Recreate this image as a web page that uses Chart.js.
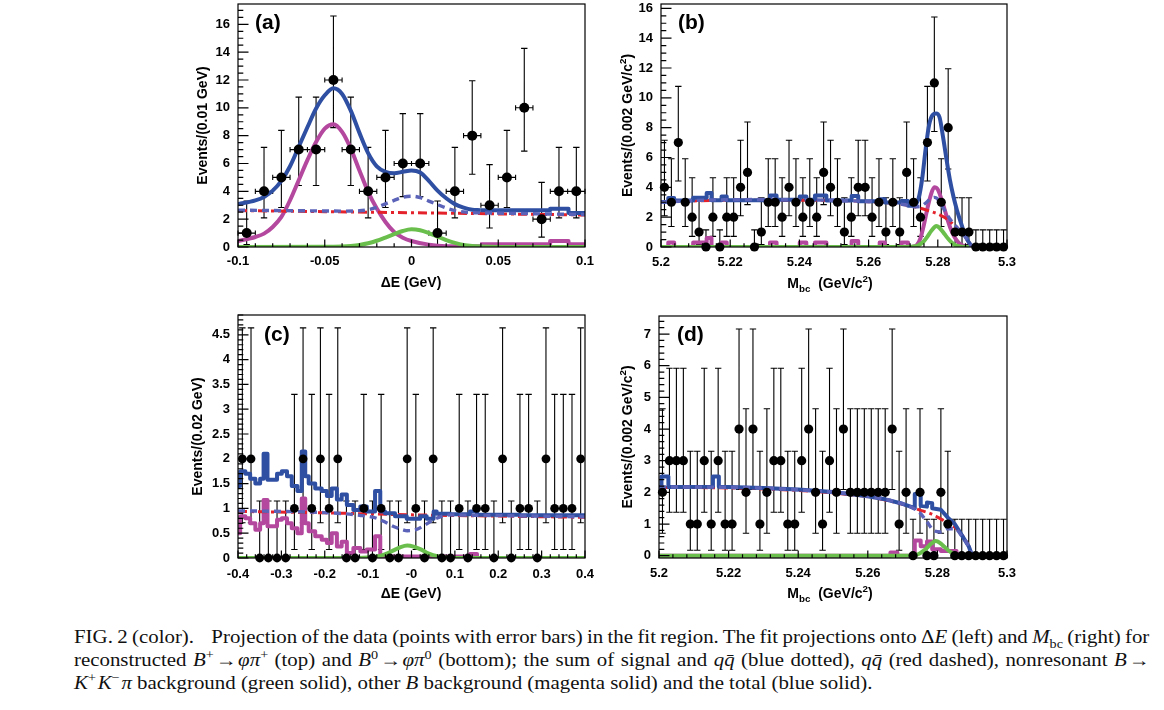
<!DOCTYPE html>
<html lang="en">
<head>
<meta charset="UTF-8">
<title>FIG. 2 - fit projections</title>
<script src="https://cdn.jsdelivr.net/npm/chart.js@4"></script>
<style>
  html, body { margin: 0; padding: 0; background: #fff; }
  body { position: relative; width: 1164px; height: 710px; overflow: hidden; }
  canvas { position: absolute; }
  .caption { position: absolute; left: 74px; top: 626px; width: 927px;
             transform: scaleX(1.16); transform-origin: 0 0;
             font-family: "Liberation Serif", "Times New Roman", serif; font-size: 18px; line-height: 23px; color: #111; }
  .caption div { white-space: nowrap; }
  .caption .j { text-align: justify; text-align-last: justify; word-spacing: -3px; }
  .caption sup, .caption sub { font-size: 68%; line-height: 0; }
</style>
</head>
<body>
<div class="caption">
  <div class="j">FIG. 2 (color).&nbsp;&nbsp;&nbsp; Projection of the data (points with error bars) in the fit region. The fit projections onto Δ<i>E</i> (left) and <i>M</i><sub>bc</sub> (right) for</div>
  <div class="j">reconstructed <i>B</i><sup>+</sup>&#8202;→&#8202;<i>φπ</i><sup>+</sup> (top) and <i>B</i><sup>0</sup>&#8202;→&#8202;<i>φπ</i><sup>0</sup> (bottom); the sum of signal and <i>qq̄</i> (blue dotted), <i>qq̄</i> (red dashed), nonresonant <i>B</i>&#8202;→</div>
  <div><i>K</i><sup>+</sup>&#8202;<i>K</i><sup>−</sup>&#8202;<i>π</i> background (green solid), other <i>B</i> background (magenta solid) and the total (blue solid).</div>
</div>
<script>
// ---------- data points (bin centres and counts) ----------
const A_X = [-0.095,-0.085,-0.075,-0.065,-0.055,-0.045,-0.035,-0.025,-0.015,-0.005,
             0.005,0.015,0.025,0.035,0.045,0.055,0.065,0.075,0.085,0.095];
const A_N = [1,4,5,7,7,12,7,4,5,6,6,1,4,8,3,5,10,2,4,4];

const MBC_X = [5.201,5.203,5.205,5.207,5.209,5.211,5.213,5.215,5.217,5.219,
               5.221,5.223,5.225,5.227,5.229,5.231,5.233,5.235,5.237,5.239,
               5.241,5.243,5.245,5.247,5.249,5.251,5.253,5.255,5.257,5.259,
               5.261,5.263,5.265,5.267,5.269,5.271,5.273,5.275,5.277,5.279,
               5.281,5.283,5.285,5.287,5.289,5.291,5.293,5.295,5.297,5.299];
const B_N = [4,3,7,3,2,1,0,2,0,2, 2,4,5,0,1,3,3,2,4,3, 2,3,2,5,4,3,1,2,4,4,
             2,3,1,3,1,5,3,2,7,11, 3,8,1,1,1,0,0,0,0,0];

const C_X = [-0.39,-0.37,-0.35,-0.33,-0.31,-0.29,-0.27,-0.25,-0.23,-0.21,
             -0.19,-0.17,-0.15,-0.13,-0.11,-0.09,-0.07,-0.05,-0.03,-0.01,
             0.01,0.03,0.05,0.07,0.09,0.11,0.13,0.15,0.17,0.19,
             0.21,0.23,0.25,0.27,0.29,0.31,0.33,0.35,0.37,0.39];
const C_N = [2,2,0,0,0,0,1,2,1,2, 1,2,0,0,1,0,1,0,0,2, 1,0,2,0,0,1,0,1,1,0,
             2,0,1,1,0,2,1,1,1,2];

const D_N = [2,3,3,3,1,1,3,1,3,1, 1,4,2,4,1,2,3,3,1,1, 3,4,2,1,3,2,4,2,2,2,
             2,2,2,4,1,2,0,2,0,0, 2,1,0,0,0,0,0,0,0,0];

// 68% Poisson intervals, indexed by count
const POIS_LO = [0,0.17,0.71,1.37,2.09,2.84,3.62,4.42,5.23,6.06,6.89,7.74,8.58];
const POIS_HI = [1.15,3.30,4.64,5.92,7.16,8.38,9.58,10.77,11.95,13.11,14.27,15.42,16.60];

// ---------- fit curves [x, y] ----------
// (a) dE, B+ -> phi pi+
const A_TOTAL = [[-0.1,3.07],[-0.09,3.35],[-0.085,3.6],[-0.08,4.05],[-0.075,4.75],[-0.07,5.8],
  [-0.065,7.2],[-0.06,8.6],[-0.055,9.95],[-0.05,10.9],[-0.045,11.4],[-0.04,11.0],[-0.035,9.8],
  [-0.03,8.2],[-0.025,6.75],[-0.02,5.8],[-0.015,5.4],[-0.01,5.3],[-0.005,5.4],[0,5.5],[0.005,5.35],
  [0.01,4.75],[0.015,4.05],[0.02,3.5],[0.025,3.08],[0.03,2.83],[0.035,2.68],[0.0396,2.64]];
const A_TOTAL_STEP = [[0.0396,2.64],[0.0799,2.74],[0.0905,2.45],[0.1,2.45]];
const A_SUM = [[-0.1,2.65],[-0.08,2.62],[-0.06,2.6],[-0.04,2.58],[-0.03,2.6],[-0.025,2.68],
  [-0.02,2.85],[-0.015,3.1],[-0.01,3.35],[-0.005,3.58],[0,3.65],[0.005,3.55],[0.01,3.3],
  [0.015,3.05],[0.02,2.8],[0.025,2.62],[0.03,2.52],[0.035,2.46],[0.04,2.45],[0.06,2.41],
  [0.08,2.37],[0.1,2.33]];
const A_QQ = [[-0.1,2.62],[-0.05,2.54],[0,2.46],[0.05,2.38],[0.1,2.3]];
const A_NONRES = [[-0.1,0],[-0.05,0.01],[-0.04,0.04],[-0.035,0.08],[-0.03,0.15],[-0.025,0.27],
  [-0.02,0.45],[-0.015,0.68],[-0.01,0.92],[-0.005,1.15],[0,1.27],[0.005,1.2],[0.01,1.0],
  [0.015,0.75],[0.02,0.5],[0.025,0.3],[0.03,0.15],[0.035,0.07],[0.04,0.03],[0.05,0],[0.1,0]];
const A_OTHERB = [[-0.1,0.43],[-0.09,0.72],[-0.085,0.96],[-0.08,1.44],[-0.075,2.16],[-0.07,3.36],
  [-0.065,4.8],[-0.06,6.24],[-0.055,7.55],[-0.05,8.51],[-0.045,8.82],[-0.04,8.27],[-0.035,7.07],
  [-0.03,5.5],[-0.025,3.96],[-0.02,2.76],[-0.015,1.8],[-0.01,1.08],[-0.005,0.67],[0,0.43],
  [0.01,0.17],[0.02,0.06],[0.03,0.05],[0.0396,0.05]];
const A_OTHERB_STEP = [[0.0396,0.19],[0.0799,0.43],[0.0905,0.19],[0.1,0.19]];

// (b) Mbc, B+ -> phi pi+
const B_TOTAL_STEP = [[5.2,3.02],[5.2021,3.28],[5.2038,3.12],[5.2093,3.3],[5.2132,3.62],[5.2146,3.13],
  [5.2175,3.38],[5.219,3.14],[5.2315,3.45],[5.2334,3.17],[5.2401,3.38],[5.242,3.17],[5.2445,3.45],
  [5.2478,3.12],[5.2551,3.42],[5.257,3.06],[5.2632,3.2],[5.2647,2.98],[5.2695,3.08],[5.2714,2.76],[5.2735,2.76]];
const B_TOTAL = [[5.2735,2.76],[5.2745,3.3],[5.2755,4.6],[5.2765,6.6],[5.2775,8.2],[5.2785,8.85],
  [5.2795,8.95],[5.2805,8.7],[5.2815,7.4],[5.2825,5.9],[5.2835,4.5],[5.2845,3.4],[5.2855,2.5],
  [5.2865,1.75],[5.2875,1.05],[5.2885,0.5],[5.2895,0.15],[5.2905,0],[5.3,0]];
const B_SUM = [[5.2,3.0],[5.21,3.12],[5.22,3.17],[5.23,3.18],[5.24,3.17],[5.25,3.13],[5.26,3.05],
  [5.265,2.98],[5.27,2.85],[5.2735,2.7],[5.275,2.72],[5.2765,2.95],[5.278,3.25],[5.279,3.33],
  [5.28,3.2],[5.281,2.85],[5.282,2.45],[5.283,2.05],[5.284,1.72],[5.285,1.45],[5.286,1.2],
  [5.287,0.95],[5.288,0.65],[5.289,0.3],[5.29,0],[5.3,0]];
const B_QQ = [[5.2,3.02],[5.22,3.14],[5.24,3.14],[5.26,3.04],[5.27,2.85],[5.275,2.6],[5.278,2.38],
  [5.28,2.22],[5.282,1.97],[5.284,1.62],[5.286,1.2],[5.288,0.7],[5.289,0.35],[5.29,0],[5.3,0]];
const B_NONRES = [[5.2,0],[5.271,0],[5.272,0.01],[5.273,0.03],[5.274,0.08],[5.275,0.2],[5.276,0.4],
  [5.277,0.7],[5.278,1.05],[5.279,1.33],[5.2795,1.4],[5.28,1.37],[5.281,1.15],[5.282,0.85],
  [5.283,0.55],[5.284,0.3],[5.285,0.14],[5.286,0.06],[5.287,0.02],[5.288,0],[5.3,0]];
const B_OTHERB_STEP = [[5.2,0],[5.2021,0.3],[5.2038,0],[5.2093,0.3],[5.2132,0.6],[5.2146,0],
  [5.2175,0.3],[5.219,0],[5.2315,0.3],[5.2334,0],[5.2401,0.3],[5.242,0],[5.2445,0.3],[5.2478,0],
  [5.2551,0.4],[5.257,0],[5.2632,0.3],[5.2647,0],[5.2695,0.3],[5.2714,0],[5.2725,0]];
const B_OTHERB = [[5.2725,0],[5.274,0.15],[5.275,0.6],[5.276,1.5],[5.277,2.6],[5.278,3.5],[5.279,4.0],
  [5.28,3.85],[5.281,3.25],[5.282,2.5],[5.283,1.7],[5.284,1.05],[5.285,0.6],[5.286,0.3],
  [5.287,0.12],[5.288,0.03],[5.289,0],[5.3,0]];

// (c) dE, B0 -> phi pi0
const C_TOTAL_STEP = [[-0.4,1.45],[-0.395,1.75],[-0.383,1.7],[-0.372,1.6],[-0.36,1.5],[-0.349,1.6],
  [-0.341,2.1],[-0.332,1.58],[-0.31,1.7],[-0.299,1.75],[-0.287,1.65],[-0.276,1.45],[-0.263,1.35],
  [-0.253,2.15],[-0.245,1.65],[-0.237,1.5],[-0.222,1.4],[-0.207,1.35],[-0.195,1.25],[-0.184,1.4],
  [-0.172,1.18],[-0.161,1.28],[-0.149,1.07],[-0.134,0.97],[-0.118,1.04],[-0.103,0.94],[-0.084,1.35],
  [-0.072,0.94],[-0.061,0.9],[-0.038,0.84],[-0.011,0.79],[0.02,0.84],[0.035,0.79],[0.051,0.94],
  [0.058,0.89],[0.089,0.88],[0.135,0.94],[0.151,0.87],[0.25,0.86],[0.4,0.845]];
const C_SUM = [[-0.4,0.95],[-0.3,0.94],[-0.2,0.915],[-0.15,0.89],[-0.12,0.86],[-0.1,0.84],
  [-0.08,0.8],[-0.06,0.72],[-0.04,0.63],[-0.02,0.57],[-0.01,0.55],[0.01,0.57],[0.03,0.66],
  [0.05,0.77],[0.07,0.84],[0.09,0.87],[0.12,0.865],[0.2,0.855],[0.4,0.83]];
const C_QQ = [[-0.4,0.94],[-0.2,0.91],[0,0.87],[0.2,0.845],[0.4,0.82]];
const C_NONRES = [[-0.4,0],[-0.12,0],[-0.1,0.01],[-0.08,0.03],[-0.06,0.08],[-0.04,0.16],
  [-0.025,0.22],[-0.01,0.25],[0.005,0.23],[0.02,0.18],[0.04,0.09],[0.06,0.035],[0.08,0.01],
  [0.1,0],[0.4,0]];
const C_OTHERB_STEP = [[-0.4,0.5],[-0.395,0.84],[-0.383,0.8],[-0.372,0.7],[-0.36,0.57],[-0.349,0.7],
  [-0.341,1.17],[-0.332,0.64],[-0.31,0.77],[-0.299,0.8],[-0.287,0.7],[-0.276,0.6],[-0.263,0.5],
  [-0.253,1.2],[-0.245,0.7],[-0.237,0.54],[-0.222,0.44],[-0.207,0.37],[-0.195,0.3],[-0.184,0.5],
  [-0.172,0.23],[-0.161,0.33],[-0.149,0.1],[-0.134,0.2],[-0.118,0.13],[-0.103,0.17],[-0.084,0.44],
  [-0.072,0.03],[0.135,0.08],[0.151,0],[0.4,0]];

// (d) Mbc, B0 -> phi pi0
const D_TOTAL = [[5.2,2.17],[5.2007,2.17],[5.2007,2.5],[5.2027,2.5],[5.2027,2.17],[5.2155,2.18],
  [5.2155,2.5],[5.2172,2.5],[5.2172,2.18],[5.22,2.17],[5.23,2.14],[5.24,2.09],[5.25,2.01],
  [5.26,1.88],[5.265,1.78],[5.27,1.64],[5.2735,1.5],[5.2735,1.95],[5.2752,1.95],[5.2752,1.58],
  [5.277,1.55],[5.277,1.68],[5.2785,1.66],[5.2785,1.5],[5.281,1.45],[5.283,1.2],[5.285,1.0],
  [5.287,0.65],[5.289,0.3],[5.29,0],[5.3,0]];
const D_SUM = [[5.2,2.17],[5.22,2.16],[5.24,2.08],[5.26,1.88],[5.27,1.64],[5.273,1.5],[5.275,1.35],
  [5.277,1.07],[5.279,0.79],[5.281,0.75],[5.283,0.85],[5.285,0.85],[5.287,0.62],[5.289,0.28],
  [5.29,0],[5.3,0]];
const D_QQ = [[5.2,2.15],[5.21,2.15],[5.22,2.14],[5.23,2.11],[5.24,2.06],[5.25,1.98],[5.26,1.86],
  [5.265,1.76],[5.27,1.62],[5.275,1.44],[5.278,1.33],[5.28,1.22],[5.282,1.1],[5.284,0.98],
  [5.286,0.8],[5.288,0.5],[5.289,0.3],[5.29,0],[5.3,0]];
const D_NONRES = [[5.2,0],[5.27,0],[5.273,0.01],[5.274,0.03],[5.275,0.08],[5.276,0.15],[5.277,0.25],
  [5.278,0.36],[5.279,0.44],[5.2795,0.46],[5.28,0.45],[5.281,0.38],[5.282,0.28],[5.283,0.18],
  [5.284,0.1],[5.285,0.05],[5.286,0.02],[5.288,0],[5.3,0]];
const D_OTHERB_STEP = [[5.2,0],[5.2665,0.1],[5.2685,0],[5.2735,0.48],[5.2752,0.3],[5.277,0.45],
  [5.2785,0.2],[5.281,0.15],[5.2855,0],[5.3,0]];

// ---------- tick values / labels ----------
const A_XTICKS = [-0.1,-0.05,0,0.05,0.1];
const A_XLABELS = ['-0.1','-0.05','0','0.05','0.1'];
const AB_YTICKS = [0,2,4,6,8,10,12,14,16];
const AB_YLABELS = ['0','2','4','6','8','10','12','14','16'];
const MBC_TICKS = [5.2,5.22,5.24,5.26,5.28,5.3];
const MBC_LABELS = ['5.2','5.22','5.24','5.26','5.28','5.3'];
const C_XTICKS = [-0.4,-0.3,-0.2,-0.1,0,0.1,0.2,0.3,0.4];
const C_XLABELS = ['-0.4','-0.3','-0.2','-0.1','-0','0.1','0.2','0.3','0.4'];
const C_YTICKS = [0,0.5,1,1.5,2,2.5,3,3.5,4,4.5];
const C_YLABELS = ['0','0.5','1','1.5','2','2.5','3','3.5','4','4.5'];
const D_YTICKS = [0,1,2,3,4,5,6,7];
const D_YLABELS = ['0','1','2','3','4','5','6','7'];

// ---------- styles ----------
const FONT = '"Liberation Sans", Arial, Helvetica, sans-serif';
const STY = {
  total:  { color: '#2f4fa3', width: 4 },
  sum:    { color: '#5b63b9', width: 3.4, dash: [7, 5] },
  qq:     { color: '#e3222b', width: 3, dash: [9, 4, 3, 4] },
  nonres: { color: '#6abf4c', width: 4 },
  otherB: { color: '#b4489e', width: 4 }
};
// lower order is drawn on top
const ORDER = { pts: 0, sum: 1, nonres: 2, total: 3, qq: 4, otherB: 5 };

const GEV_TITLE = t => [{ t: t }];
const MBC_TITLE = [{ t: 'M' }, { t: 'bc', sub: true }, { t: '  (GeV/c' }, { t: '2', sup: true }, { t: ')' }];
const EV_MBC = [{ t: 'Events/(0.002 GeV/c' }, { t: '2', sup: true }, { t: ')' }];

const PANELS = [
  { tag: '(a)', L: 238, R: 585, T: 4, B: 247, xmin: -0.1, xmax: 0.1, ymin: 0, ymax: 17.46,
    x: A_X, n: A_N, bin: 0.01, xerr: true, r: 5,
    xTicks: A_XTICKS, xLabels: A_XLABELS, xMinor: 0.01, yTicks: AB_YTICKS, yLabels: AB_YLABELS, yMinor: 0.5,
    xPad: 7, yTitle: GEV_TITLE('Events/(0.01 GeV)'), yTitleX: 202, xTitle: GEV_TITLE('ΔE (GeV)'),
    xTitlePos: [411, 282], labelPos: [255, 23],
    curves: [[A_OTHERB, 'otherB', 'smooth'], [A_OTHERB_STEP, 'otherB', 'step'], [A_NONRES, 'nonres', 'smooth'],
             [A_TOTAL, 'total', 'smooth'], [A_TOTAL_STEP, 'total', 'step'], [A_SUM, 'sum', 'smooth'], [A_QQ, 'qq', 'smooth']] },
  { tag: '(b)', L: 661, R: 1007, T: 4, B: 247, xmin: 5.2, xmax: 5.3, ymin: 0, ymax: 16.29,
    x: MBC_X, n: B_N, bin: 0.002, xerr: false, r: 4.6,
    xTicks: MBC_TICKS, xLabels: MBC_LABELS, xMinor: 0.004, yTicks: AB_YTICKS, yLabels: AB_YLABELS, yMinor: 0.5,
    xPad: 8, yTitle: EV_MBC, yTitleX: 627, xTitle: MBC_TITLE, xTitlePos: [830, 283], labelPos: [678, 23],
    curves: [[B_OTHERB_STEP, 'otherB', 'step'], [B_OTHERB, 'otherB', 'smooth'], [B_NONRES, 'nonres', 'smooth'],
             [B_TOTAL_STEP, 'total', 'step'], [B_TOTAL, 'total', 'smooth'], [B_SUM, 'sum', 'smooth'], [B_QQ, 'qq', 'smooth']] },
  { tag: '(c)', L: 238, R: 585, T: 315, B: 558, xmin: -0.4, xmax: 0.4, ymin: 0, ymax: 4.9,
    x: C_X, n: C_N, bin: 0.02, xerr: false, r: 4.4,
    xTicks: C_XTICKS, xLabels: C_XLABELS, xMinor: 0.02, yTicks: C_YTICKS, yLabels: C_YLABELS, yMinor: 0.1,
    xPad: 9, yTitle: GEV_TITLE('Events/(0.02 GeV)'), yTitleX: 197, xTitle: GEV_TITLE('ΔE (GeV)'),
    xTitlePos: [411, 593], labelPos: [264, 335],
    curves: [[C_OTHERB_STEP, 'otherB', 'step'], [C_NONRES, 'nonres', 'smooth'], [C_TOTAL_STEP, 'total', 'step'],
             [C_SUM, 'sum', 'smooth'], [C_QQ, 'qq', 'smooth']] },
  { tag: '(d)', L: 659, R: 1007, T: 316, B: 558, xmin: 5.2, xmax: 5.3, ymin: -0.073, ymax: 7.57,
    x: MBC_X, n: D_N, bin: 0.002, xerr: false, r: 4.6,
    xTicks: MBC_TICKS, xLabels: MBC_LABELS, xMinor: 0.004, yTicks: D_YTICKS, yLabels: D_YLABELS, yMinor: 0.2,
    xPad: 7.5, yTitle: EV_MBC, yTitleX: 627, xTitle: MBC_TITLE, xTitlePos: [830, 593], labelPos: [677, 335],
    curves: [[D_OTHERB_STEP, 'otherB', 'step'], [D_NONRES, 'nonres', 'smooth'], [D_TOTAL, 'total', 'line'],
             [D_SUM, 'sum', 'smooth'], [D_QQ, 'qq', 'smooth']] }
];

// draws text made of plain / superscript / subscript pieces, centred on (cx, cy)
function drawRich(ctx, segs, cx, cy, size, rotate) {
  const fontFor = s => `bold ${(s.sub || s.sup) ? size * 0.7 : size}px ${FONT}`;
  ctx.save();
  ctx.translate(cx, cy);
  if (rotate) ctx.rotate(-Math.PI / 2);
  let w = 0;
  segs.forEach(s => { ctx.font = fontFor(s); w += ctx.measureText(s.t).width; });
  let x = -w / 2;
  ctx.fillStyle = '#000';
  ctx.textAlign = 'left';
  ctx.textBaseline = 'alphabetic';
  segs.forEach(s => {
    ctx.font = fontFor(s);
    const dy = s.sup ? -size * 0.4 : s.sub ? size * 0.28 : 0;
    ctx.fillText(s.t, x, size * 0.36 + dy);
    x += ctx.measureText(s.t).width;
  });
  ctx.restore();
}

function makePanel(p) {
  const W = p.R - p.L + 75, H = p.B - p.T + 65;
  const ox = p.L - 60, oy = p.T - 10;
  const canvas = document.createElement('canvas');
  canvas.width = W; canvas.height = H;
  canvas.style.left = ox + 'px'; canvas.style.top = oy + 'px';
  canvas.style.width = W + 'px'; canvas.style.height = H + 'px';
  document.body.appendChild(canvas);

  // ROOT-like decorations: error bars under the curves, frame + inward ticks + titles on top
  const deco = {
    id: 'rootDeco',
    beforeDatasetsDraw(chart) {
      const ctx = chart.ctx, xs = chart.scales.x, ys = chart.scales.y;
      ctx.save();
      ctx.strokeStyle = '#000';
      ctx.lineWidth = 1.1;
      ctx.beginPath();
      p.x.forEach((x, i) => {
        const n = p.n[i];
        const px = xs.getPixelForValue(x);
        const lo = ys.getPixelForValue(POIS_LO[n]), hi = ys.getPixelForValue(POIS_HI[n]);
        ctx.moveTo(px, lo); ctx.lineTo(px, hi);
        ctx.moveTo(px - 3.2, hi); ctx.lineTo(px + 3.2, hi);
        ctx.moveTo(px - 3.2, lo); ctx.lineTo(px + 3.2, lo);
        if (p.xerr) {
          const py = ys.getPixelForValue(n);
          const xl = xs.getPixelForValue(x - p.bin / 2), xr = xs.getPixelForValue(x + p.bin / 2);
          ctx.moveTo(xl, py); ctx.lineTo(xr, py);
          ctx.moveTo(xl, py - 2.6); ctx.lineTo(xl, py + 2.6);
          ctx.moveTo(xr, py - 2.6); ctx.lineTo(xr, py + 2.6);
        }
      });
      ctx.stroke();
      ctx.restore();
    },
    afterDraw(chart) {
      const ctx = chart.ctx, xs = chart.scales.x, ys = chart.scales.y;
      const a = chart.chartArea;
      ctx.save();
      ctx.strokeStyle = '#000';
      ctx.lineWidth = 1.2;
      ctx.strokeRect(a.left, a.top, a.right - a.left, a.bottom - a.top);
      ctx.beginPath();
      // y ticks (inward from left edge)
      for (let k = Math.ceil(p.ymin / p.yMinor - 1e-6); k * p.yMinor <= p.ymax + 1e-9; k++) {
        const v = k * p.yMinor;
        const major = p.yTicks.some(t => Math.abs(t - v) < 1e-6);
        const py = ys.getPixelForValue(v);
        ctx.moveTo(a.left, py); ctx.lineTo(a.left + (major ? 10.5 : 5.3), py);
      }
      // x ticks (upward from bottom edge)
      for (let k = Math.ceil(p.xmin / p.xMinor - 1e-6); k * p.xMinor <= p.xmax + 1e-9; k++) {
        const v = k * p.xMinor;
        const major = p.xTicks.some(t => Math.abs(t - v) < 1e-6);
        const px = xs.getPixelForValue(v);
        ctx.moveTo(px, a.bottom); ctx.lineTo(px, a.bottom - (major ? 7.5 : 3.8));
      }
      ctx.stroke();
      ctx.restore();
      drawRich(ctx, p.yTitle, p.yTitleX - ox, (a.top + a.bottom) / 2, 14, true);
      drawRich(ctx, p.xTitle, p.xTitlePos[0] - ox, p.xTitlePos[1] - oy, 14, false);
      ctx.save();
      ctx.font = `bold 21px ${FONT}`;
      ctx.fillStyle = '#000';
      ctx.textBaseline = 'middle';
      ctx.fillText(p.tag, p.labelPos[0] - ox, p.labelPos[1] - oy);
      ctx.restore();
    }
  };

  const datasets = [{
    type: 'scatter',
    data: p.x.map((x, i) => ({ x: x, y: p.n[i] })),
    pointRadius: p.r, pointBackgroundColor: '#000', pointBorderWidth: 0,
    showLine: false, order: ORDER.pts, clip: false
  }];
  p.curves.forEach(([pts, key, mode]) => {
    const s = STY[key];
    datasets.push({
      type: 'line',
      data: pts.map(q => ({ x: q[0], y: q[1] })),
      borderColor: s.color, borderWidth: s.width, borderDash: s.dash || [],
      pointRadius: 0, fill: false, order: ORDER[key],
      tension: 0,
      cubicInterpolationMode: mode === 'smooth' ? 'monotone' : 'default',
      stepped: mode === 'step' ? 'before' : false,
      borderJoinStyle: 'round', borderCapStyle: 'butt'
    });
  });

  const tickFont = { family: FONT, size: 13, weight: 'bold' };
  new Chart(canvas, {
    type: 'scatter',
    data: { datasets: datasets },
    options: {
      responsive: false,
      animation: false,
      events: [],
      layout: { padding: { left: 0, top: 10, right: 15, bottom: 0 } },
      plugins: { legend: { display: false }, tooltip: { enabled: false } },
      scales: {
        x: {
          type: 'linear', min: p.xmin, max: p.xmax,
          grid: { display: false, drawTicks: false }, border: { display: false },
          ticks: { padding: p.xPad, maxRotation: 0, autoSkip: false, color: '#000', font: tickFont,
                   callback: (v, i) => p.xLabels[i] },
          afterBuildTicks: s => { s.ticks = p.xTicks.map(v => ({ value: v })); },
          afterFit: s => { s.height = 55; s.paddingLeft = 0; s.paddingRight = 0; }
        },
        y: {
          type: 'linear', min: p.ymin, max: p.ymax,
          grid: { display: false, drawTicks: false }, border: { display: false },
          ticks: { padding: 8, color: '#000', font: tickFont, autoSkip: false,
                   callback: (v, i) => p.yLabels[i] },
          afterBuildTicks: s => { s.ticks = p.yTicks.map(v => ({ value: v })); },
          afterFit: s => { s.width = 60; s.paddingTop = 0; s.paddingBottom = 0; }
        }
      }
    },
    plugins: [deco]
  });
}

PANELS.forEach(makePanel);
</script>
</body>
</html>
